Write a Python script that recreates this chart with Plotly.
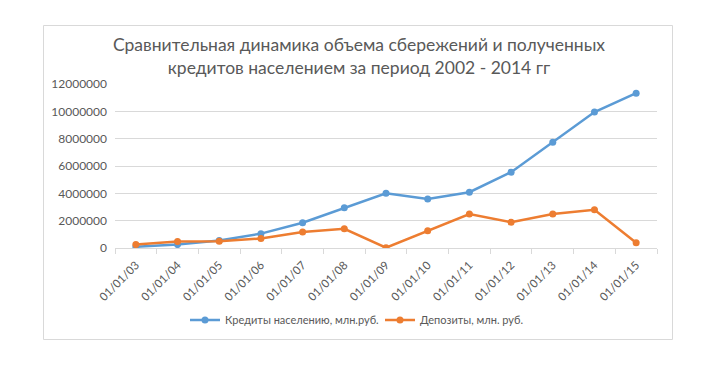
import plotly.graph_objects as go

categories = ["01/01/03", "01/01/04", "01/01/05", "01/01/06", "01/01/07", "01/01/08", "01/01/09",
              "01/01/10", "01/01/11", "01/01/12", "01/01/13", "01/01/14", "01/01/15"]
credits = [100000, 250000, 550000, 1050000, 1850000, 2950000, 4000000,
           3580000, 4080000, 5550000, 7730000, 9950000, 11330000]
deposits = [250000, 480000, 500000, 700000, 1170000, 1400000, 20000,
            1270000, 2480000, 1880000, 2480000, 2800000, 380000]
y_ticks = [0, 2000000, 4000000, 6000000, 8000000, 10000000, 12000000]

FONT = "Lato"
GREY = "#595959"
OFF = 8  # page body margin

fig = go.Figure()
fig.add_trace(go.Scatter(x=categories, y=credits, mode="lines+markers",
                         name="Кредиты населению, млн.руб.",
                         line=dict(color="#5B9BD5", width=2.5),
                         marker=dict(color="#5B9BD5", size=7)))
fig.add_trace(go.Scatter(x=categories, y=deposits, mode="lines+markers",
                         name="Депозиты, млн. руб.",
                         line=dict(color="#ED7D31", width=2.5),
                         marker=dict(color="#ED7D31", size=7)))

# screen coordinates of the plot area
L, R, T, B = 115, 657, 84, 248
W, H = 710 - OFF, 384 - OFF
pw, ph = R - L, B - T

def px(x):
    return (x - L) / pw

def py(y):
    return (B - y) / ph

fig.update_layout(
    width=W, height=H,
    margin=dict(l=L - OFF, r=W - (R - OFF), t=T - OFF, b=H - (B - OFF), autoexpand=False),
    paper_bgcolor="white", plot_bgcolor="white",
    font=dict(family=FONT, color=GREY, size=12),
    title=dict(text="Сравнительная динамика объема сбережений и полученных<br>кредитов населением за период 2002 - 2014 гг",
               x=(359 - OFF) / W, xanchor="center", y=1 - (51 - OFF) / H, yanchor="middle",
               font=dict(family=FONT, size=17.5, color=GREY)),
    showlegend=True,
    legend=dict(orientation="h", x=px(185), xanchor="left", y=py(320), yanchor="middle",
                font=dict(family=FONT, size=11, color=GREY), itemwidth=30,
                entrywidth=150, entrywidthmode="pixels",
                bgcolor="rgba(0,0,0,0)"),
    shapes=[dict(type="rect", xref="paper", yref="paper",
                 x0=px(43.5), x1=px(672.5), y0=py(339.5), y1=py(25.5),
                 line=dict(color="#D9D9D9", width=1), fillcolor="rgba(0,0,0,0)", layer="below")],
)
fig.update_xaxes(type="category", range=[-0.5, len(categories) - 0.5], showgrid=False,
                 showline=True, linecolor="#D9D9D9", linewidth=1,
                 ticks="outside", tickson="boundaries", ticklen=5, tickcolor="#D9D9D9",
                 ticklabelstandoff=5,
                 tickangle=-45, tickfont=dict(family=FONT, size=11.5, color=GREY))
fig.update_yaxes(range=[0, 12000000], tickvals=y_ticks, ticktext=[str(v) for v in y_ticks],
                 showgrid=True, gridcolor="#D9D9D9", gridwidth=1, zeroline=False, showline=False,
                 ticks="", ticklabelstandoff=7, tickfont=dict(family=FONT, size=12, color=GREY))

fig.write_html("out.html")
